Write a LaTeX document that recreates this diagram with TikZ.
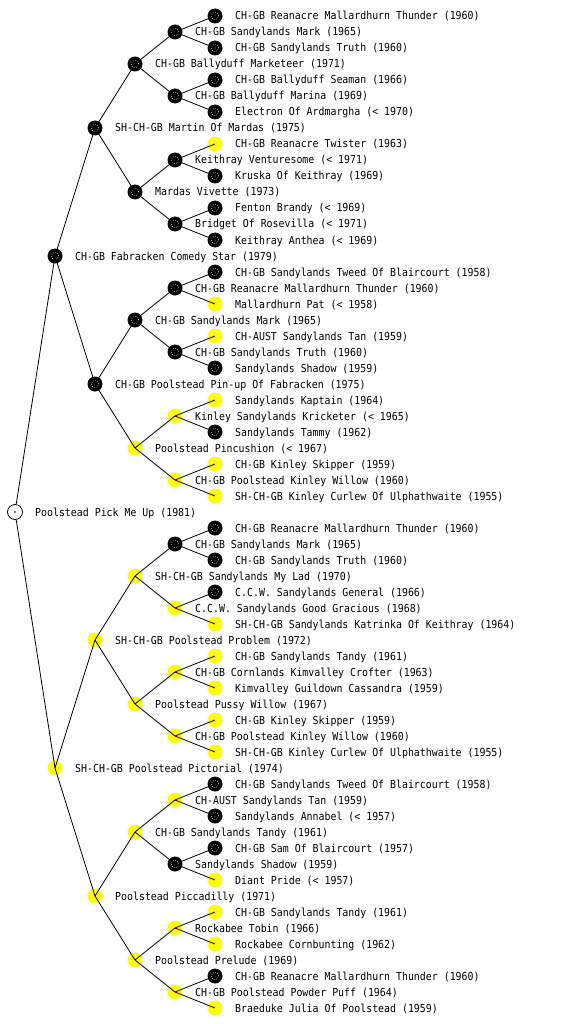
\documentclass[tikz,border=0pt]{standalone}
\usepackage{fontspec}
\newfontfamily\pixfont[FakeStretch=0.9]{DejaVu Sans Mono}
\definecolor{pyellow}{RGB}{255,255,0}
\tikzset{
  dogB/.style={circle,fill=black,minimum size=15pt,inner sep=0pt,
    path picture={\draw[white,line width=0.6pt,dash pattern=on 0.7pt off 1.5pt]
      (path picture bounding box.center) circle (3.6pt);
      \fill[white] (path picture bounding box.center) circle (0.5pt);}},
  dogY/.style={circle,fill=pyellow,minimum size=15pt,inner sep=0pt},
  dogR/.style={circle,draw=black,line width=0.8pt,fill=white,minimum size=15pt,inner sep=0pt,
    path picture={\fill[black] (path picture bounding box.center) circle (0.8pt);}},
  lbl/.style={anchor=base west,inner sep=0pt,font=\pixfont\fontsize{11pt}{12pt}\selectfont},
  edge/.style={draw=black,line width=0.8pt}
}
\newcommand\pnode[5]{\node[#4] (#1) at (#2,#3) {};\node[lbl] (#1t) at (#2+20,#3+4) {#5};}
\begin{document}
\begin{tikzpicture}[x=1pt,y=-1pt]
\useasboundingbox[fill=white] (0,0) rectangle (560,1024);
% root
\pnode{a0}{15}{512}{dogR}{Poolstead Pick Me Up (1981)}
% level 1
\pnode{b0}{55}{256}{dogB}{CH-GB Fabracken Comedy Star (1979)}
\pnode{b1}{55}{768}{dogY}{SH-CH-GB Poolstead Pictorial (1974)}
% level 2
\pnode{c0}{95}{128}{dogB}{SH-CH-GB Martin Of Mardas (1975)}
\pnode{c1}{95}{384}{dogB}{CH-GB Poolstead Pin-up Of Fabracken (1975)}
\pnode{c2}{95}{640}{dogY}{SH-CH-GB Poolstead Problem (1972)}
\pnode{c3}{95}{896}{dogY}{Poolstead Piccadilly (1971)}
% level 3
\pnode{d0}{135}{64}{dogB}{CH-GB Ballyduff Marketeer (1971)}
\pnode{d1}{135}{192}{dogB}{Mardas Vivette (1973)}
\pnode{d2}{135}{320}{dogB}{CH-GB Sandylands Mark (1965)}
\pnode{d3}{135}{448}{dogY}{Poolstead Pincushion (< 1967)}
\pnode{d4}{135}{576}{dogY}{SH-CH-GB Sandylands My Lad (1970)}
\pnode{d5}{135}{704}{dogY}{Poolstead Pussy Willow (1967)}
\pnode{d6}{135}{832}{dogY}{CH-GB Sandylands Tandy (1961)}
\pnode{d7}{135}{960}{dogY}{Poolstead Prelude (1969)}
% level 4
\pnode{e0}{175}{32}{dogB}{CH-GB Sandylands Mark (1965)}
\pnode{e1}{175}{96}{dogB}{CH-GB Ballyduff Marina (1969)}
\pnode{e2}{175}{160}{dogB}{Keithray Venturesome (< 1971)}
\pnode{e3}{175}{224}{dogB}{Bridget Of Rosevilla (< 1971)}
\pnode{e4}{175}{288}{dogB}{CH-GB Reanacre Mallardhurn Thunder (1960)}
\pnode{e5}{175}{352}{dogB}{CH-GB Sandylands Truth (1960)}
\pnode{e6}{175}{416}{dogY}{Kinley Sandylands Kricketer (< 1965)}
\pnode{e7}{175}{480}{dogY}{CH-GB Poolstead Kinley Willow (1960)}
\pnode{e8}{175}{544}{dogB}{CH-GB Sandylands Mark (1965)}
\pnode{e9}{175}{608}{dogY}{C.C.W. Sandylands Good Gracious (1968)}
\pnode{e10}{175}{672}{dogY}{CH-GB Cornlands Kimvalley Crofter (1963)}
\pnode{e11}{175}{736}{dogY}{CH-GB Poolstead Kinley Willow (1960)}
\pnode{e12}{175}{800}{dogY}{CH-AUST Sandylands Tan (1959)}
\pnode{e13}{175}{864}{dogB}{Sandylands Shadow (1959)}
\pnode{e14}{175}{928}{dogY}{Rockabee Tobin (1966)}
\pnode{e15}{175}{992}{dogY}{CH-GB Poolstead Powder Puff (1964)}
% level 5
\pnode{f0}{215}{16}{dogB}{CH-GB Reanacre Mallardhurn Thunder (1960)}
\pnode{f1}{215}{48}{dogB}{CH-GB Sandylands Truth (1960)}
\pnode{f2}{215}{80}{dogB}{CH-GB Ballyduff Seaman (1966)}
\pnode{f3}{215}{112}{dogB}{Electron Of Ardmargha (< 1970)}
\pnode{f4}{215}{144}{dogY}{CH-GB Reanacre Twister (1963)}
\pnode{f5}{215}{176}{dogB}{Kruska Of Keithray (1969)}
\pnode{f6}{215}{208}{dogB}{Fenton Brandy (< 1969)}
\pnode{f7}{215}{240}{dogB}{Keithray Anthea (< 1969)}
\pnode{f8}{215}{272}{dogB}{CH-GB Sandylands Tweed Of Blaircourt (1958)}
\pnode{f9}{215}{304}{dogY}{Mallardhurn Pat (< 1958)}
\pnode{f10}{215}{336}{dogY}{CH-AUST Sandylands Tan (1959)}
\pnode{f11}{215}{368}{dogB}{Sandylands Shadow (1959)}
\pnode{f12}{215}{400}{dogY}{Sandylands Kaptain (1964)}
\pnode{f13}{215}{432}{dogB}{Sandylands Tammy (1962)}
\pnode{f14}{215}{464}{dogY}{CH-GB Kinley Skipper (1959)}
\pnode{f15}{215}{496}{dogY}{SH-CH-GB Kinley Curlew Of Ulphathwaite (1955)}
\pnode{f16}{215}{528}{dogB}{CH-GB Reanacre Mallardhurn Thunder (1960)}
\pnode{f17}{215}{560}{dogB}{CH-GB Sandylands Truth (1960)}
\pnode{f18}{215}{592}{dogB}{C.C.W. Sandylands General (1966)}
\pnode{f19}{215}{624}{dogY}{SH-CH-GB Sandylands Katrinka Of Keithray (1964)}
\pnode{f20}{215}{656}{dogY}{CH-GB Sandylands Tandy (1961)}
\pnode{f21}{215}{688}{dogY}{Kimvalley Guildown Cassandra (1959)}
\pnode{f22}{215}{720}{dogY}{CH-GB Kinley Skipper (1959)}
\pnode{f23}{215}{752}{dogY}{SH-CH-GB Kinley Curlew Of Ulphathwaite (1955)}
\pnode{f24}{215}{784}{dogB}{CH-GB Sandylands Tweed Of Blaircourt (1958)}
\pnode{f25}{215}{816}{dogB}{Sandylands Annabel (< 1957)}
\pnode{f26}{215}{848}{dogB}{CH-GB Sam Of Blaircourt (1957)}
\pnode{f27}{215}{880}{dogY}{Diant Pride (< 1957)}
\pnode{f28}{215}{912}{dogY}{CH-GB Sandylands Tandy (1961)}
\pnode{f29}{215}{944}{dogY}{Rockabee Cornbunting (1962)}
\pnode{f30}{215}{976}{dogB}{CH-GB Reanacre Mallardhurn Thunder (1960)}
\pnode{f31}{215}{1008}{dogY}{Braeduke Julia Of Poolstead (1959)}
% edges
\draw[edge] (a0) -- (b0.center);
\draw[edge] (a0) -- (b1.center);
\foreach \i in {0,1}{\pgfmathtruncatemacro\l{2*\i}\pgfmathtruncatemacro\r{2*\i+1}
  \draw[edge] (b\i.center) -- (c\l.center); \draw[edge] (b\i.center) -- (c\r.center);}
\foreach \i in {0,...,3}{\pgfmathtruncatemacro\l{2*\i}\pgfmathtruncatemacro\r{2*\i+1}
  \draw[edge] (c\i.center) -- (d\l.center); \draw[edge] (c\i.center) -- (d\r.center);}
\foreach \i in {0,...,7}{\pgfmathtruncatemacro\l{2*\i}\pgfmathtruncatemacro\r{2*\i+1}
  \draw[edge] (d\i.center) -- (e\l.center); \draw[edge] (d\i.center) -- (e\r.center);}
\foreach \i in {0,...,15}{\pgfmathtruncatemacro\l{2*\i}\pgfmathtruncatemacro\r{2*\i+1}
  \draw[edge] (e\i.center) -- (f\l.center); \draw[edge] (e\i.center) -- (f\r.center);}
\end{tikzpicture}
\end{document}
